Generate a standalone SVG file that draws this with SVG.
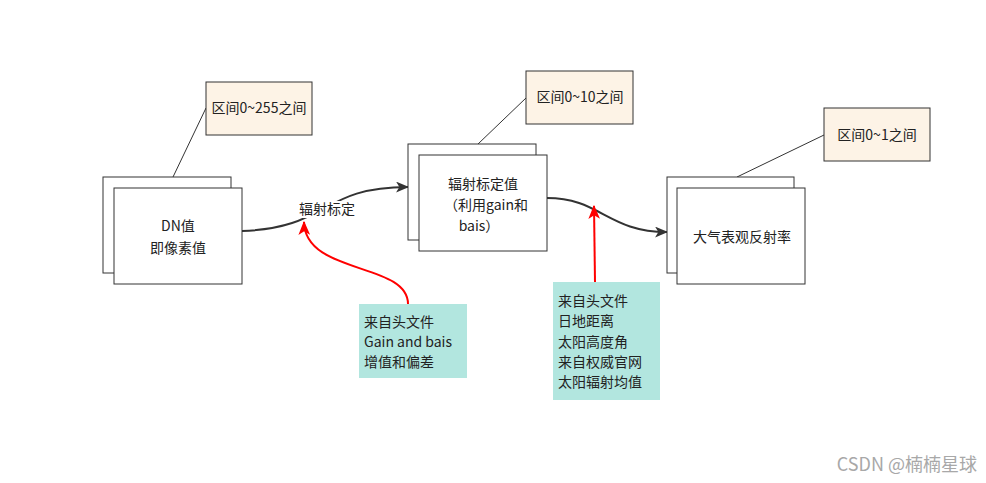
<svg xmlns="http://www.w3.org/2000/svg" width="986" height="483" viewBox="0 0 986 483">
<defs>
<style>
.box{fill:#ffffff;stroke:#333333;stroke-width:1}
.note{fill:#fdf3e6;stroke:#333333;stroke-width:1}
.src{fill:#b2e6df;stroke:none}
.t{font-family:"Noto Sans CJK SC","Microsoft YaHei",sans-serif;font-size:14px;fill:#222222}
.tc{text-anchor:middle}
.lk{fill:none;stroke:#333333;stroke-width:1}
.edge{fill:none;stroke:#333333;stroke-width:2}
.red{fill:none;stroke:#ff0000;stroke-width:2}
</style>
<marker id="ab" viewBox="0 0 12 10" refX="11" refY="5" markerWidth="13" markerHeight="11" markerUnits="userSpaceOnUse" orient="auto">
<path d="M0,0 L12,5 L0,10 L3,5 z" fill="#333333"/>
</marker>
<marker id="ar" viewBox="0 0 12 10" refX="11" refY="5" markerWidth="14" markerHeight="12" markerUnits="userSpaceOnUse" orient="auto">
<path d="M0,0 L12,5 L0,10 L3,5 z" fill="#ff0000"/>
</marker>
</defs>
<rect width="986" height="483" fill="#ffffff"/>

<g id="connectors">
<line class="lk" x1="173" y1="177" x2="206" y2="108"/>
<line class="lk" x1="478" y1="144" x2="526" y2="98"/>
<line class="lk" x1="737" y1="177" x2="824" y2="135"/>
<path class="edge" d="M242,231 C330,228 320,187 408,187" marker-end="url(#ab)"/>
<path class="edge" d="M547,198 C600,198 608,232 667,232" marker-end="url(#ab)"/>
<path class="red" d="M408,304 C408,262 305,275 304,222" marker-end="url(#ar)"/>
<line class="red" x1="595" y1="282" x2="594" y2="206" marker-end="url(#ar)"/>
<rect x="298" y="201" width="60" height="17" fill="#ffffff"/>
<text class="t tc" x="327" y="214">辐射标定</text>
</g>

<g id="node-dn">
<rect class="box" x="103" y="177" width="128" height="96"/>
<rect class="box" x="114" y="188" width="128" height="96"/>
<text class="t tc" x="178" y="231">DN值</text>
<text class="t tc" x="178" y="253">即像素值</text>
</g>

<g id="note-dn">
<rect class="note" x="206" y="82" width="106" height="53"/>
<text class="t tc" x="259" y="113">区间0~255之间</text>
</g>

<g id="node-cal">
<rect class="box" x="408" y="144" width="128" height="96"/>
<rect class="box" x="419" y="155" width="128" height="96"/>
<text class="t tc" x="483" y="189">辐射标定值</text>
<text class="t tc" x="486" y="210">（利用gain和</text>
<text class="t tc" x="479" y="231">bais）</text>
</g>

<g id="note-cal">
<rect class="note" x="526" y="71" width="107" height="53"/>
<text class="t tc" x="580" y="102">区间0~10之间</text>
</g>

<g id="node-ref">
<rect class="box" x="667" y="177" width="127" height="96"/>
<rect class="box" x="677" y="188" width="128" height="96"/>
<text class="t tc" x="742" y="242">大气表观反射率</text>
</g>

<g id="note-ref">
<rect class="note" x="824" y="108" width="106" height="53"/>
<text class="t tc" x="877" y="140">区间0~1之间</text>
</g>

<g id="src-gain">
<rect class="src" x="359" y="304" width="108" height="74"/>
<text class="t" x="364" y="327">来自头文件</text>
<text class="t" x="364" y="347">Gain and bais</text>
<text class="t" x="364" y="367">增值和偏差</text>
</g>

<g id="src-sun">
<rect class="src" x="553" y="282" width="107" height="118"/>
<text class="t" x="558" y="306">来自头文件</text>
<text class="t" x="558" y="326">日地距离</text>
<text class="t" x="558" y="347">太阳高度角</text>
<text class="t" x="558" y="367">来自权威官网</text>
<text class="t" x="558" y="387">太阳辐射均值</text>
</g>

<text x="977" y="471" text-anchor="end" style="font-family:'Noto Sans CJK SC','Microsoft YaHei',sans-serif;font-size:18px;fill:#a8a8a8">CSDN @楠楠星球</text>
</svg>
